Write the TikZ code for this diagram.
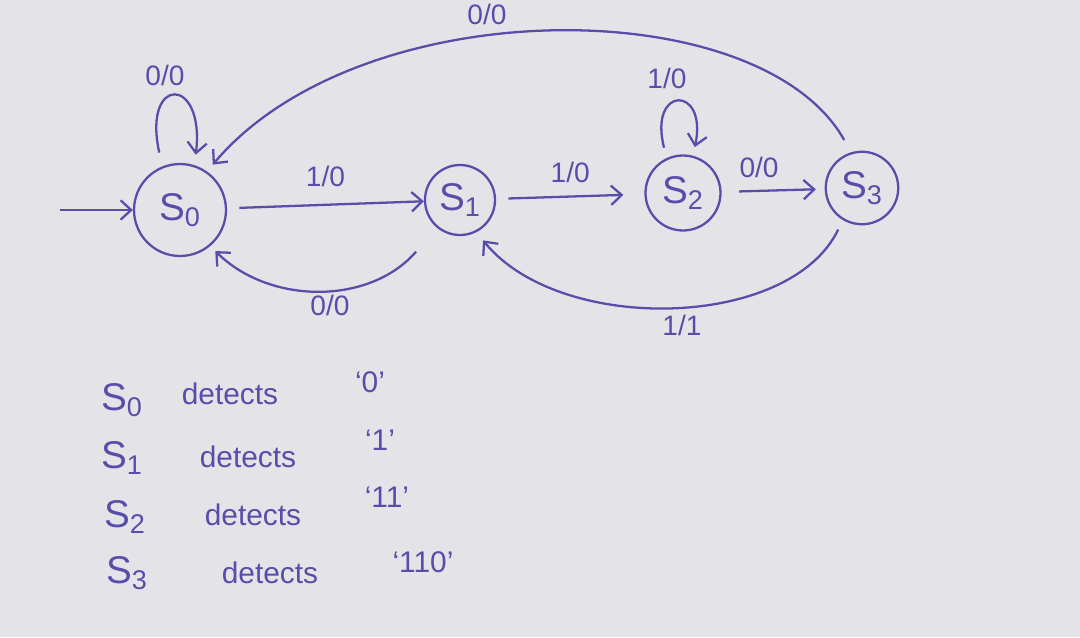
\documentclass[tikz,border=0pt]{standalone}
\usepackage{fontspec}
\setmainfont{Liberation Sans}
\usetikzlibrary{arrows.meta}
\definecolor{ink}{RGB}{88,78,170}
\definecolor{paper}{RGB}{228,228,232}

\begin{document}
\begin{tikzpicture}[x=0.02cm,y=0.02cm,
  every node/.style={text=ink},
  stnode/.style={circle,draw=ink,line width=1.3pt,inner sep=0pt,font=\fontsize{22}{24}\selectfont},
  lbl/.style={font=\fontsize{16}{18}\selectfont},
  legS/.style={font=\fontsize{22}{24}\selectfont},
  legtxt/.style={font=\fontsize{17}{19}\selectfont},
  arr/.style={-{Straight Barb[length=6pt,width=11pt]},draw=ink,line width=1.3pt}]
\useasboundingbox (0,0) rectangle (1080,-637);
\fill[paper] (0,0) rectangle (1080,-637);
% states
\node[stnode,minimum size=1.84cm] (s0) at (180,-210) {S\textsubscript{0}};
\node[stnode,minimum size=1.4cm] (s1) at (460,-200) {S\textsubscript{1}};
\node[stnode,minimum size=1.5cm] (s2) at (683,-193) {S\textsubscript{2}};
\node[stnode,minimum size=1.45cm] (s3) at (862,-188) {S\textsubscript{3}};
\coordinate (start) at (60,-210);
% transitions
\draw[arr] (start) -- (s0);
\draw[arr,shorten <=7pt] (s0) -- node[lbl,above=6pt] (l01) {1/0} (s1);
\draw[arr,shorten <=7pt,shorten >=12pt] (s1) -- node[lbl,above=4pt] (l12) {1/0} (s2);
\draw[arr,shorten <=10pt,shorten >=5pt] (s2) -- node[lbl,above=3pt,xshift=-8pt] (l23) {0/0} (s3);
\draw[arr,shorten <=8pt,shorten >=6pt] (s0.112) .. controls (142,-75) and (205,-75) .. (s0.72);
\node[lbl] (l00) at (165,-75) {0/0};
\draw[arr,shorten <=6pt,shorten >=5pt] (s2.115) .. controls (648,-85) and (708,-85) .. (s2.75);
\node[lbl] (l22) at (667,-78) {1/0};
\draw[arr,shorten <=18pt,shorten >=4pt] (s1.230) .. controls (370,-305) and (270,-305) .. (s0.-50);
\node[lbl] (l10) at (330,-305) {0/0};
\draw[arr,shorten <=6pt,shorten >=6pt] (s3.239) .. controls (790,-330) and (560,-335) .. (s1.-63);
\node[lbl] (l31) at (682,-325) {1/1};
\draw[arr,shorten <=8pt,shorten >=5pt] (s3.107) .. controls (760,10) and (360,10) .. (s0.55);
\node[lbl] (l30) at (487,-14) {0/0};
% what each state detects
\node[legS] (d0) at (122,-400) {S\textsubscript{0}};
\node[legtxt] (t0) at (230,-394) {detects};
\node[legtxt] (q0) at (370,-382) {`0'};
\node[legS] (d1) at (122,-458) {S\textsubscript{1}};
\node[legtxt] (t1) at (248,-457) {detects};
\node[legtxt] (q1) at (380,-440) {`1'};
\node[legS] (d2) at (125,-517) {S\textsubscript{2}};
\node[legtxt] (t2) at (253,-515) {detects};
\node[legtxt] (q2) at (387,-497) {`11'};
\node[legS] (d3) at (127,-573) {S\textsubscript{3}};
\node[legtxt] (t3) at (270,-573) {detects};
\node[legtxt] (q3) at (423,-562) {`110'};
\end{tikzpicture}
\end{document}
